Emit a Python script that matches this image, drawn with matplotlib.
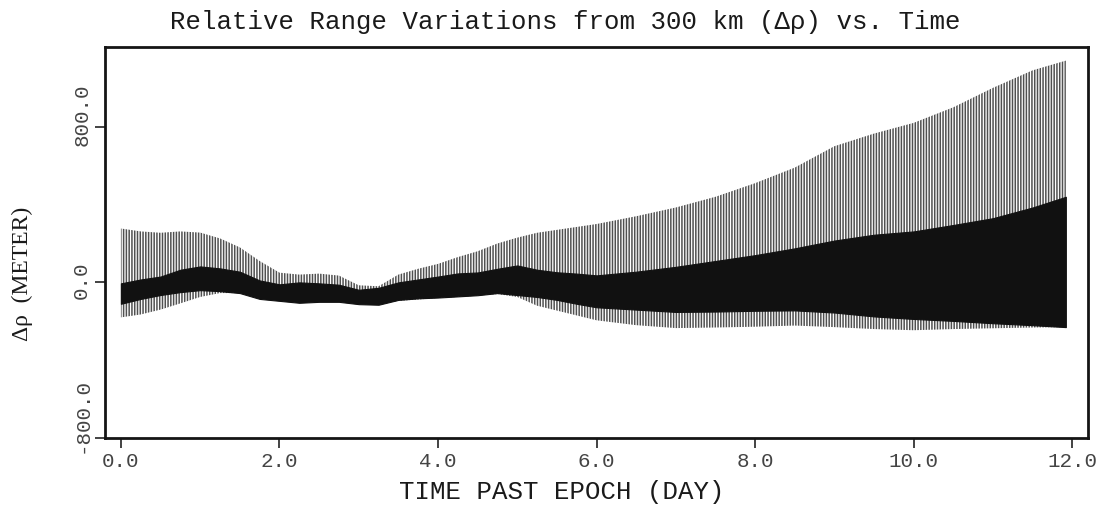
import numpy as np
import matplotlib.pyplot as plt
import matplotlib.transforms as mtransforms

# envelope of the range residuals, sampled along the arc (days past epoch)
days = [0.0, 0.25, 0.5, 0.75, 1.0, 1.25, 1.5, 1.75, 2.0, 2.25, 2.5, 2.75,
        3.0, 3.25, 3.5, 3.75, 4.0, 4.25, 4.5, 4.75, 5.0, 5.25, 5.5, 5.75,
        6.0, 6.5, 7.0, 7.5, 8.0, 8.5, 9.0, 9.5, 10.0, 10.5, 11.0, 11.5, 11.92]

# full swing of the oscillation (meters)
swing_hi = [277, 262, 255, 262, 256, 226, 180, 110, 50, 40, 45, 35,
            -15, -20, 40, 70, 95, 130, 160, 200, 230, 255, 270, 285,
            300, 340, 385, 440, 510, 590, 700, 765, 820, 900, 1000, 1090, 1140]
swing_lo = [-180, -165, -140, -108, -75, -55, -55, -80, -95, -105, -100, -100,
            -112, -115, -95, -88, -80, -75, -68, -60, -75, -120, -145, -170,
            -195, -220, -235, -232, -228, -222, -230, -240, -246, -240, -236, -232, -230]

# dense core of the residuals (meters)
core_hi = [-5, 15, 30, 65, 82, 72, 55, 10, -10, 0, -5, -12,
           -38, -28, 0, 15, 30, 46, 51, 70, 87, 65, 52, 45,
           36, 55, 80, 110, 140, 175, 215, 245, 262, 295, 330, 385, 440]
core_lo = [-110, -85, -65, -50, -40, -45, -55, -85, -95, -105, -100, -100,
           -112, -115, -90, -82, -78, -72, -66, -55, -65, -75, -90, -110,
           -128, -140, -152, -150, -146, -144, -155, -175, -188, -198, -210, -220, -230]

xticks = [0, 2, 4, 6, 8, 10, 12]
xticklabels = ['0.0', '2.0', '4.0', '6.0', '8.0', '10.0', '12.0']
yticks = [-800, 0, 800]
yticklabels = ['-800.0', '0.0', '800.0']

plt.rcParams['hatch.linewidth'] = 1.1

fig = plt.figure(figsize=(11.14, 5.05), dpi=100)
ax = fig.add_axes([0.0943, 0.1327, 0.8824, 0.7742])

ax.fill_between(days, swing_lo, swing_hi, facecolor='none', edgecolor='#505050',
                hatch='||||||', linewidth=0)
ax.fill_between(days, core_lo, core_hi, color='#111111', linewidth=0.8)

ax.set_xlim(-0.2, 12.2)
ax.set_ylim(-800, 1210)
ax.set_xticks(xticks)
ax.set_xticklabels(xticklabels, family='Liberation Mono', fontsize=15, color='#444444')
ax.set_yticks(yticks)
ax.set_yticklabels(yticklabels, family='Liberation Mono', fontsize=15, color='#444444',
                   rotation=90, va='center')
ax.tick_params(direction='out', length=7, width=1.2, color='#222222', pad=3)
for s in ax.spines.values():
    s.set_linewidth(2.0)
    s.set_color('#151515')

# the plotter set the rotated y labels a little above their ticks
for lab, dy in zip(ax.get_yticklabels(), [22, 2, 12]):
    lab.set_transform(lab.get_transform() +
                      mtransforms.ScaledTranslation(0, dy / 100, fig.dpi_scale_trans))

fig.text(565 / 1114, 1 - 22 / 505, 'Relative Range Variations from 300 km (\u0394\u03c1) vs. Time',
         ha='center', va='center', family='Liberation Mono', fontsize=18.5, color='#1a1a1a')
fig.text(562 / 1114, 1 - 492 / 505, 'TIME PAST EPOCH (DAY)',
         ha='center', va='center', family='Liberation Mono', fontsize=18.5, color='#1a1a1a')
fig.text(22 / 1114, 1 - 274 / 505, '\u0394\u03c1  (METER)', rotation=90,
         ha='center', va='center', family='Liberation Serif', fontsize=17, color='#1a1a1a')

fig.savefig('out.png', dpi=100)
